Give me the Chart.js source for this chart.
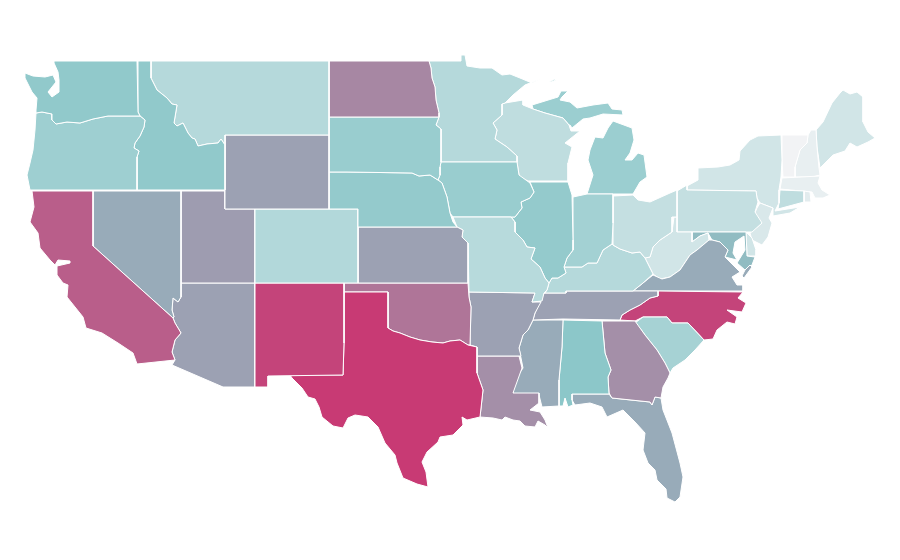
<!DOCTYPE html>
<html lang="en">
<head>
    <meta charset="UTF-8" />
    <title>US states choropleth</title>
    <script src="https://cdn.jsdelivr.net/npm/chart.js"></script>
    <style>
        html, body { margin: 0; padding: 0; background: #fff; }
        canvas { display: block; }
    </style>
</head>
<body>
<canvas id="map" width="900" height="560"></canvas>

<script>
    // State outlines, as flat x,y lists in map units
    const WA = [54,61,137,61,138,112,140,116,108,116,93,119,80,123,67,122,56,124,52,120,52,114,42,112,36,113,36,110,37,98,32,92,25,78,25,73,33,76,45,77,53,75,56,82,48,92,52,97,59,92,59,80,58,72,54,63];
    const OR = [36,113,42,112,52,114,52,120,56,124,67,122,80,123,93,119,108,116,140,116,145,120,144,127,140,136,135,143,134,148,139,151,137,157,137,190,30,190,27,175,30,163,33,150,35,130];
    const ID = [138,61,151,61,151,78,153,82,157,90,167,98,172,104,177,105,175,117,174,123,177,126,183,123,188,133,192,138,195,139,198,146,207,144,218,143,221,139,225,145,225,190,137,190,137,157,139,151,134,148,135,143,140,136,144,127,145,120,140,116,138,112];
    const MT = [151,61,329,61,329,135,225,135,225,145,221,139,218,143,207,144,198,146,195,139,192,138,188,133,183,123,177,126,174,123,175,117,177,105,172,104,167,98,157,90,153,82,151,78];
    const WY = [225,135,329,135,329,209,225,209];
    const ND = [329,61,429,61,431,68,432,78,435,87,436,100,439,113,439,117,329,117];
    const SD = [329,117,439,117,436,125,441,129,441,162,440,167,440,175,438,180,430,175,419,176,412,173,347,172,329,172];
    const NE = [329,172,347,172,412,173,419,176,430,175,438,180,442,183,447,197,450,213,453,222,457,227,358,227,358,209,329,209];
    const CO = [255,209,358,209,358,283,255,283];
    const KS = [358,227,457,227,463,230,462,237,468,243,468,283,358,283];
    const NM = [255,283,344,283,344,343,343,375,268,376,268,387,255,387];
    const TX = [344,292,388,292,388,328,393,331,400,333,410,337,420,340,432,342,443,343,450,341,460,340,468,345,477,347,477,373,483,390,480,417,467,420,462,417,463,425,453,435,440,437,438,442,427,452,422,462,426,472,428,487,417,484,403,478,397,463,395,455,385,443,378,427,368,417,355,415,348,418,343,428,333,426,322,417,319,407,315,399,308,397,302,388,292,378,290,375,343,375,344,343];
    const OK = [344,283,468,283,469,297,471,307,470,345,468,345,460,340,450,341,443,343,432,342,420,340,410,337,400,333,393,331,388,328,388,292,344,292];
    const MO = [453,217,511,217,515,222,515,232,523,240,527,247,535,248,531,259,540,267,545,278,549,283,547,290,544,293,542,301,532,302,535,293,469,292,468,243,462,237,463,230,457,227];
    const AR = [469,292,535,293,532,302,541,302,535,313,533,320,528,330,523,335,519,348,521,356,477,356,477,347,470,345,471,307,469,297];
    const LA = [477,356,519,356,522,368,513,393,539,393,539,403,530,410,540,412,545,420,548,428,545,425,538,421,535,427,525,426,520,421,513,420,505,417,502,420,493,418,480,417,483,390,477,373];
    const IA = [441,162,517,162,519,175,530,183,534,192,530,198,521,202,522,208,515,217,453,217,450,213,447,197,442,183,438,180,440,175,440,167];
    const MN = [431,61,461,61,461,55,465,55,467,66,480,68,492,68,502,75,510,74,520,78,532,83,540,79,525,85,513,95,505,103,502,104,502,115,493,123,497,130,495,139,507,147,517,156,517,162,441,162,441,129,436,125,439,117,439,113,436,100,435,87,432,78,431,68,429,61];
    const WI = [502,104,505,103,523,100,523,105,533,109,545,113,563,118,569,125,571,131,580,131,565,143,572,147,568,163,568,181,528,181,520,177,519,175,517,162,517,156,507,147,495,139,497,130,493,123,502,115];
    const IL = [530,182,568,182,572,195,573,240,573,250,567,258,564,267,566,273,558,278,552,278,549,283,545,278,540,267,531,259,535,248,527,247,523,240,515,232,515,222,511,217,515,217,522,208,521,202,530,198,534,192];
    const IN = [573,197,587,194,613,194,613,223,612,244,603,250,597,263,588,263,582,267,567,267,564,267,567,258,573,250,573,240];
    const OH = [613,196,633,195,638,200,650,202,670,193,677,190,677,217,672,217,672,232,660,240,653,247,650,257,645,258,640,252,632,253,620,249,613,245];
    const KY = [613,245,620,249,632,253,640,252,645,258,653,274,643,283,633,291,566,291,566,293,545,293,547,290,549,283,552,278,558,278,566,273,564,267,567,267,582,267,588,263,597,263,603,250,612,244];
    const TN = [545,293,566,293,566,291,633,291,658,291,658,296,650,298,640,305,630,310,622,315,620,320,563,319,533,320,535,313,540,302,542,295];
    const MS = [533,320,563,320,562,347,559,380,559,406,542,407,539,395,513,394,515,380,523,368,519,348,523,335,528,330];
    const AL = [563,320,602,321,605,353,611,370,608,377,609,394,572,394,572,400,573,405,568,407,565,398,563,406,559,406,559,380,562,347];
    const GA = [602,321,635,321,640,328,645,335,657,350,665,363,670,373,668,378,663,387,661,398,655,397,652,405,650,402,612,398,609,393,608,377,611,370,605,353];
    const FL = [572,394,609,394,612,398,650,402,652,405,655,397,661,398,663,410,672,433,680,463,683,477,680,497,675,502,667,498,666,489,657,480,655,470,648,463,643,450,645,433,635,422,623,410,607,417,602,407,590,403,575,405,572,400];
    const SC = [635,323,643,317,667,317,672,323,688,323,704,340,695,350,685,360,673,368,670,373,665,363,657,350,645,335,640,328];
    const NC = [658,291,743,292,738,298,746,303,742,312,727,310,737,317,735,324,727,322,717,330,713,339,704,340,688,323,672,323,667,317,643,317,635,321,620,320,622,315,630,310,640,305,650,298,658,296];
    const VA = [633,291,643,283,653,275,662,279,670,277,680,270,690,255,697,250,709,240,712,240,720,242,728,250,725,257,735,267,740,272,732,277,737,285,743,285,743,291];
    const VA2 = [745,270,750,265,752,267,744,278,742,276];
    const WV = [674,217,677,217,677,232,692,232,692,242,700,236,708,233,709,240,697,250,690,255,680,270,670,277,660,279,653,274,645,258,650,257,653,247,660,240,672,232];
    const MD = [692,232,746,232,747,256,755,257,752,265,745,270,737,263,745,250,744,236,735,242,733,253,737,260,725,257,728,250,720,242,712,240,708,233,700,236,692,242];
    const DE = [746,232,752,238,756,250,756,256,747,256];
    const PA = [677,191,687,185,687,190,756,191,757,198,758,202,755,212,762,223,752,232,677,232];
    const NJ = [760,203,773,208,769,218,772,223,768,237,762,245,752,240,750,233,762,223,754,215,757,208];
    const NY = [687,190,687,186,698,180,698,168,718,167,730,165,739,160,740,151,750,140,758,136,781,135,782,160,781,177,779,190,779,203,775,211,800,207,790,213,773,216,773,208,760,203,757,198,756,191];
    const CT = [780,190,804,191,804,202,778,209,779,203];
    const RI = [804,191,810,192,811,202,804,202];
    const MA = [782,178,820,176,818,183,822,190,830,195,823,198,815,198,812,192,780,189];
    const VT = [782,135,808,135,807,143,800,150,795,167,795,177,783,177,782,160];
    const NH = [811,130,816,130,817,147,819,168,820,175,812,177,795,177,795,167,800,150,807,143,808,135];
    const ME = [816,130,823,122,832,103,840,93,843,90,850,94,857,92,863,97,863,122,868,132,875,138,868,142,857,147,850,143,845,151,833,155,820,168,817,147];
    const CA = [32,191,93,191,93,246,173,318,175,323,181,333,175,340,172,352,175,360,137,364,133,353,118,343,102,333,86,328,83,317,67,297,68,285,63,283,57,275,57,266,70,263,70,261,58,260,55,265,50,260,40,248,38,233,30,222,34,207];
    const NV = [93,191,181,191,181,297,178,302,173,298,172,310,174,317,173,318,93,246];
    const UT = [181,191,225,191,225,209,255,209,255,283,181,283];
    const AZ = [181,283,255,283,255,387,223,387,172,365,175,360,172,352,175,340,181,333,175,323,173,318,174,317,172,310,173,298,178,302,181,297];
    const MI = [532,105,558,97,561,91,568,91,562,97,560,100,570,102,577,108,593,105,608,103,612,109,622,110,623,115,603,114,590,118,583,119,572,128,570,125,569,125,563,118,545,113,533,109];
    const MI2 = [587,194,613,194,633,194,640,182,647,177,644,155,638,153,632,160,625,160,630,153,634,140,632,128,613,121,608,128,603,138,595,137,590,150,588,160,593,175];
    const MI3 = [549,82,555,79,556,80,551,82];

    const stateNames = ['WA','OR','ID','MT','WY','ND','SD','NE','CO','KS','NM','TX','OK','MO','AR','LA','IA','MN','WI','IL','IN','OH','KY','TN','MS','AL','GA','FL','SC','NC','VA','WV','MD','DE','PA','NJ','NY','CT','RI','MA','VT','NH','ME','CA','NV','UT','AZ','MI'];
    const stateValues = [38,33,38,24,60,70,35,37,25,60,96,100,77,23,60,67,35,24,20,37,31,18,24,60,55,40,67,55,30,96,55,13,46,13,18,10,13,20,6,4,0,4,13,86,55,62,60,34];
    const stateShapes = [[WA],[OR],[ID],[MT],[WY],[ND],[SD],[NE],[CO],[KS],[NM],[TX],[OK],[MO],[AR],[LA],[IA],[MN],[WI],[IL],[IN],[OH],[KY],[TN],[MS],[AL],[GA],[FL],[SC],[NC],[VA,VA2],[WV],[MD],[DE],[PA],[NJ],[NY],[CT],[RI],[MA],[VT],[NH],[ME],[CA],[NV],[UT],[AZ],[MI,MI2,MI3]];

    // colour scale of the map
    const scaleStops = [0, 40, 60, 100];
    const scaleColors = [[242,243,245],[140,199,201],[156,161,179],[200,58,116]];

    function valueColor(v) {
        let i = 0;
        while (i < scaleStops.length - 2 && v > scaleStops[i + 1]) i++;
        const t = (v - scaleStops[i]) / (scaleStops[i + 1] - scaleStops[i]);
        const rgb = scaleColors[i].map((c, k) => Math.round(c + (scaleColors[i + 1][k] - c) * t));
        return 'rgb(' + rgb.join(',') + ')';
    }

    function toPoints(flat) {
        const pts = [];
        for (let i = 0; i < flat.length; i += 2) pts.push({ x: flat[i], y: flat[i + 1] });
        pts.push({ x: flat[0], y: flat[1] });
        return pts;
    }

    const datasets = [];
    stateNames.forEach(function(name, i) {
        stateShapes[i].forEach(function(shape) {
            datasets.push({
                label: name,
                data: toPoints(shape),
                showLine: true,
                fill: 'shape',
                backgroundColor: valueColor(stateValues[i]),
                borderColor: '#fff',
                borderWidth: 1,
                tension: 0,
                pointRadius: 0,
                pointHoverRadius: 0
            });
        });
    });

    new Chart(document.getElementById('map'), {
        type: 'scatter',
        data: { datasets: datasets },
        options: {
            responsive: false,
            animation: false,
            layout: { padding: 0 },
            plugins: { legend: { display: false }, tooltip: { enabled: false } },
            scales: {
                x: { type: 'linear', min: 0, max: 900, display: false },
                y: { type: 'linear', min: 0, max: 560, reverse: true, display: false }
            }
        }
    });
</script>
</body>
</html>
